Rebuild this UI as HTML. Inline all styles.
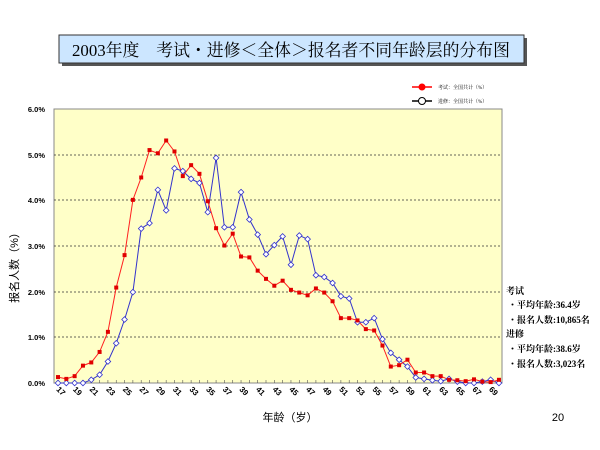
<!DOCTYPE html>
<html><head><meta charset="utf-8"><style>
body{margin:0;background:#fff;}
svg{display:block;font-family:"Liberation Serif","Noto Serif CJK SC",serif;}
</style></head><body>
<svg width="600" height="450" viewBox="0 0 600 450" xmlns="http://www.w3.org/2000/svg">
<rect x="62" y="38" width="465" height="28" fill="#555"/>
<rect x="59" y="35" width="465" height="28" fill="#cce6ff" stroke="#333" stroke-width="1"/>
<text x="291" y="56" font-size="17" text-anchor="middle" textLength="438" lengthAdjust="spacingAndGlyphs" fill="#000">2003年度　考试・进修＜全体＞报名者不同年龄层的分布图</text>
<line x1="412" y1="87" x2="432" y2="87" stroke="#f00" stroke-width="1.5"/>
<circle cx="422" cy="87" r="3.5" fill="#f00"/>
<text x="438" y="89" font-size="5" fill="#000">考试：全国共计（%）</text>
<line x1="412" y1="101" x2="432" y2="101" stroke="#000" stroke-width="1.5"/>
<circle cx="422" cy="101" r="3.5" fill="#fff" stroke="#000"/>
<text x="438" y="103" font-size="5" fill="#000">进修：全国共计（%）</text>
<rect x="54" y="109" width="448" height="274" fill="#ffffc8" stroke="#888" stroke-width="1"/>
<g stroke="#333" stroke-dasharray="2,2" stroke-width="0.8">
<line x1="54" y1="155" x2="502" y2="155"/><line x1="54" y1="200" x2="502" y2="200"/>
<line x1="54" y1="246" x2="502" y2="246"/><line x1="54" y1="292" x2="502" y2="292"/>
<line x1="54" y1="337" x2="502" y2="337"/></g>
<g font-size="7.5" font-weight="bold" text-anchor="end" font-family="Liberation Sans,sans-serif">
<text x="45" y="112">6.0%</text><text x="45" y="158">5.0%</text><text x="45" y="203">4.0%</text>
<text x="45" y="249">3.0%</text><text x="45" y="295">2.0%</text><text x="45" y="340">1.0%</text><text x="45" y="386">0.0%</text></g>
<text transform="translate(18,265) rotate(-90)" font-size="11" text-anchor="middle" font-family="Liberation Sans,Noto Sans CJK SC,sans-serif">报名人数（%）</text>
<text x="290" y="421" font-size="11" text-anchor="middle" font-family="Liberation Sans,Noto Sans CJK SC,sans-serif">年龄（岁）</text>
<text x="558" y="421" font-size="11" text-anchor="middle" font-family="Liberation Sans,sans-serif">20</text>
<g id="ticks"></g>
<g id="xl" font-size="8" font-weight="bold" font-family="Liberation Sans,sans-serif"></g>
<polyline id="blue" fill="none" stroke="#3333cc" stroke-width="1"/>
<polyline id="red" fill="none" stroke="#ff2020" stroke-width="1"/>
<g id="bm"></g><g id="rm"></g>
<g font-size="9" font-weight="bold" font-family="Liberation Serif,Noto Serif CJK SC,serif">
<text x="506" y="294">考试</text>
<text x="508" y="308">・平均年龄:36.4岁</text>
<text x="508" y="323">・报名人数:10,865名</text>
<text x="506" y="337">进修</text>
<text x="508" y="352">・平均年龄:38.6岁</text>
<text x="508" y="367">・报名人数:3,023名</text>
</g>
<script>
var R=[0.13,0.09,0.15,0.38,0.45,0.68,1.12,2.09,2.8,4.01,4.5,5.1,5.03,5.31,5.07,4.53,4.77,4.58,3.98,3.39,3.01,3.27,2.77,2.75,2.46,2.28,2.13,2.24,2.04,1.98,1.92,2.07,1.98,1.79,1.42,1.42,1.37,1.18,1.15,0.82,0.36,0.39,0.51,0.23,0.23,0.15,0.15,0.07,0.06,0.04,0.08,0.03,0.02,0.07];
var B=[0,0,0,0,0.07,0.18,0.47,0.87,1.39,1.99,3.38,3.5,4.23,3.78,4.7,4.64,4.47,4.38,3.74,4.93,3.41,3.41,4.18,3.58,3.25,2.82,3.02,3.21,2.59,3.23,3.15,2.36,2.32,2.19,1.9,1.85,1.33,1.33,1.42,0.96,0.66,0.51,0.36,0.12,0.09,0.06,0.04,0.09,0.03,0,0,0.03,0.07,0];
var NS="http://www.w3.org/2000/svg";
function X(i){return 58+i*8.32;}function Y(p){return 383-p*45.67;}
function pts(a){return a.map(function(p,i){return X(i).toFixed(1)+","+Y(p).toFixed(1)}).join(" ");}
document.getElementById("red").setAttribute("points",pts(R));
document.getElementById("blue").setAttribute("points",pts(B));
var rm=document.getElementById("rm"),bm=document.getElementById("bm"),tk=document.getElementById("ticks"),xl=document.getElementById("xl");
for(var i=0;i<54;i++){
 var r=document.createElementNS(NS,"rect");r.setAttribute("x",X(i)-2);r.setAttribute("y",Y(R[i])-2);r.setAttribute("width",4);r.setAttribute("height",4);r.setAttribute("fill","#e00000");rm.appendChild(r);
 var c=document.createElementNS(NS,"path");var x=X(i),y=Y(B[i]);c.setAttribute("d","M"+x+","+(y-2.8)+"L"+(x+2.8)+","+y+"L"+x+","+(y+2.8)+"L"+(x-2.8)+","+y+"Z");c.setAttribute("fill","#fff");c.setAttribute("stroke","#3333cc");c.setAttribute("stroke-width","0.8");bm.appendChild(c);
 var l=document.createElementNS(NS,"line");l.setAttribute("x1",x);l.setAttribute("x2",x);l.setAttribute("y1",383);l.setAttribute("y2",380);l.setAttribute("stroke","#555");l.setAttribute("stroke-width","0.6");tk.appendChild(l);
 if(i%2==0&&i<53){var t=document.createElementNS(NS,"text");t.setAttribute("transform","translate("+(x+1)+",393) rotate(45)");t.setAttribute("text-anchor","middle");t.textContent=String(17+i);xl.appendChild(t);}
}
</script>
</svg>
</body></html>
